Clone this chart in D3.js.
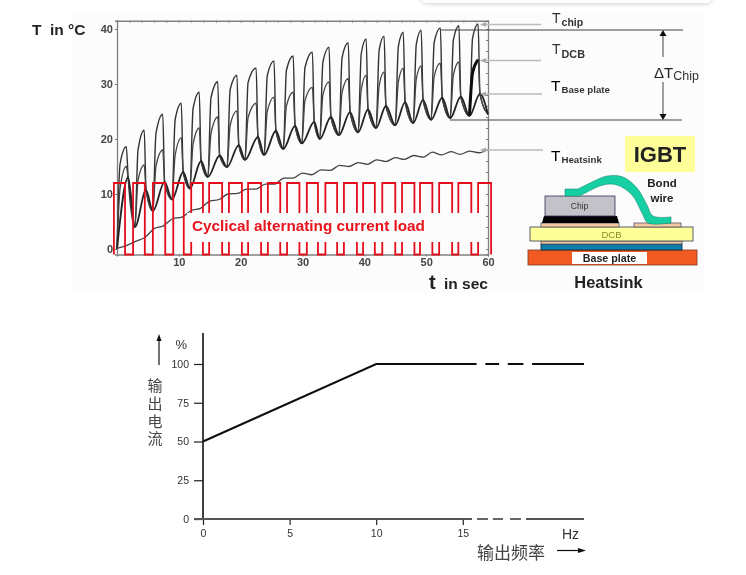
<!DOCTYPE html>
<html>
<head>
    <meta charset="UTF-8">
    <title>IGBT</title>
    <style>
        html, body { margin: 0; padding: 0; background: #fff; }
        svg { display: block; }
        text { font-family: "Liberation Sans", Arial, sans-serif; }
        .cjk { font-family: "Noto Sans CJK SC", sans-serif; fill: #444; }
    </style>
</head>
<body>
<svg id="chart" width="746" height="575"></svg>
<script src="https://d3js.org/d3.v7.min.js"></script>
<script>
    // 上图: 温度循环
    const xTicksTop = [10, 20, 30, 40, 50, 60];
    const yTicksTop = [0, 10, 20, 30, 40];
    const peakTimes = [1.5, 4.4, 7.4, 10.4, 13.3, 16.3, 19.4, 22.5, 25.4, 28.5, 31.6, 34.3, 37.4, 40.3, 43.2, 46.3, 49.2, 52.3, 55.3, 58.4];
    const valleyTimes = [0, 2.9, 5.8, 8.9, 11.8, 14.7, 17.8, 20.7, 23.8, 26.9, 29.9, 32.8, 35.9, 39, 41.9, 45, 47.9, 50.8, 53.9, 57, 60];
    const valleyTemps = [0, 4, 6.9, 9, 11, 13.1, 14.9, 16.2, 17.1, 18.2, 19.2, 20, 20.7, 21.2, 22, 22.5, 22.9, 23.5, 23.8, 24.2, 24.5];
    const chipPeaks = [18.6, 21.6, 24.5, 26.5, 28.5, 30.4, 31.6, 32.9, 34.2, 35.1, 35.8, 36.7, 37.5, 38.2, 38.7, 39.4, 39.8, 40.2, 40.6, 40.9];
    const chipShoulders = [15.5, 18, 21, 23.5, 25.5, 27.5, 29, 30.3, 31.5, 32.5, 33, 34, 34.8, 35.5, 36.2, 36.8, 37.2, 37.6, 38, 38.3];
    const dcbPeaks = [15, 15.3, 18, 20.2, 22, 24, 25.1, 26.5, 27.6, 28.5, 29.4, 30.4, 31, 31.6, 32.2, 32.9, 33.3, 33.8, 34, 34.4];
    const dcbShoulders = [11, 12.5, 15, 17, 19, 21, 22.5, 23.9, 25, 26, 27, 28, 28.5, 29, 29.7, 30.4, 30.9, 31.4, 31.6, 32];
    const basePeaks = [13, 10.7, 12.2, 14, 16, 17, 18.9, 20.4, 21.5, 22.4, 23.1, 24, 24.9, 25.4, 26, 26.7, 27.1, 27.5, 27.7, 28.2];
    const heatsinkTimes = [0, 1.5, 3, 4.5, 6, 7.5, 9, 10.5, 12, 13.5, 15, 16.5, 18, 19.5, 21, 22.5, 24, 25.5, 27, 28.5, 30, 31.5, 33, 34.5, 36, 37.5, 39, 40.5, 42, 43.5, 45, 46.5, 48, 49.5, 51, 52.5, 54, 55.5, 57, 58.5, 60];
    const heatsinkTemps = [0.1, 0.6, 1.4, 2.1, 3.7, 4.2, 5.5, 5.8, 7, 7.4, 8.7, 9, 10, 10.1, 10.9, 10.9, 11.8, 11.8, 12.9, 12.9, 13.8, 13.5, 14.4, 14.3, 15.2, 15, 15.7, 15.4, 16.2, 15.9, 16.6, 16.3, 17, 16.7, 17.6, 17.1, 17.7, 17.2, 17.8, 17.5, 18.1];
    const loadEdges = [-0.5, 1.3, 2.6, 4.5, 5.8, 7.8, 9.1, 10.8, 12, 13.9, 14.9, 17, 18.1, 20.2, 21.2, 23.3, 24.4, 26.4, 27.5, 29.5, 30.7, 32.5, 33.7, 35.6, 36.7, 38.8, 39.8, 41.7, 42.9, 45, 46.1, 48.1, 49, 51, 52.1, 54.2, 55.2, 57.3, 58.4, 60.5];
    const loadHigh = 12, loadLow = -1;

    // 下图: 输出电流
    const freqTicks = [0, 5, 10, 15];
    const currentTicks = [0, 25, 50, 75, 100];
    const curveFreq = [0, 10, 15.8];
    const curveCurrent = [50, 100, 100];
    const curveDashes = [[16.3, 17.1], [17.6, 18.5], [19, 22]];
    const axisDashes = [[15.82, 16.46], [16.74, 17.32], [17.73, 18.36], [18.65, 22]];

    const svg = d3.select("#chart");
    const defs = svg.append("defs");
    defs.append("filter").attr("id", "soft").append("feGaussianBlur").attr("stdDeviation", 0.5);
    defs.append("filter").attr("id", "softer").append("feGaussianBlur").attr("stdDeviation", 0.35);
    const shadow = defs.append("filter").attr("id", "cardShadow").attr("x", "-5%").attr("y", "-50%").attr("width", "110%").attr("height", "300%");
    shadow.append("feDropShadow").attr("dx", 0).attr("dy", 1).attr("stdDeviation", 2).attr("flood-color", "#000").attr("flood-opacity", 0.18);

    // 背景
    svg.append("rect").attr("x", 73).attr("y", 12).attr("width", 632).attr("height", 281).attr("fill", "#fcfcfc");
    svg.append("rect").attr("x", 421).attr("y", -20).attr("width", 291).attr("height", 23).attr("rx", 6)
        .attr("fill", "#fff").attr("filter", "url(#cardShadow)");

    const upper = svg.append("g").attr("filter", "url(#soft)");
    const x = d3.scaleLinear().domain([0, 60]).range([117, 488]);
    const y = d3.scaleLinear().domain([-1, 41.5]).range([254.5, 20.75]);

    // 框和刻度
    function styleAxis(g) {
        g.selectAll("path").attr("stroke", "#808080").attr("stroke-width", 1.3);
        g.selectAll("line").attr("stroke", "#808080");
        g.selectAll("text").attr("fill", "#444").attr("font-size", 11).attr("font-weight", "bold")
            .style("font-family", "'Liberation Sans', Arial, sans-serif");
    }
    upper.append("g").attr("transform", `translate(0,${y(-1)})`)
        .call(d3.axisBottom(x).tickValues(xTicksTop).tickSize(2).tickPadding(2)).call(styleAxis);
    upper.append("g").attr("transform", `translate(${x(0)},0)`)
        .call(d3.axisLeft(y).tickValues(yTicksTop).tickSize(2).tickPadding(2)).call(styleAxis);
    upper.append("g").attr("transform", `translate(0,${y(41.5)})`)
        .call(d3.axisTop(x).tickValues(d3.range(0, 61, 2)).tickSize(-2).tickFormat("")).call(styleAxis);
    upper.append("g").attr("transform", `translate(${x(60)},0)`)
        .call(d3.axisRight(y).tickValues(d3.range(0, 41, 2)).tickSize(-2).tickFormat("")).call(styleAxis);

    // 曲线
    const line = d3.line().x(d => x(d[0])).y(d => y(d[1])).curve(d3.curveMonotoneX);
    const dropTime = 0.3, riseTime = 0.5;

    const chipPts = [], dcbPts = [], basePts = [];
    peakTimes.forEach((tp, i) => {
        const tv = valleyTimes[i];
        chipPts.push([tv, valleyTemps[i]], [tv + riseTime, chipShoulders[i]], [tp, chipPeaks[i]], [tp + dropTime, basePeaks[i]]);
        dcbPts.push([tv, valleyTemps[i]], [tv + riseTime, dcbShoulders[i]], [tp, dcbPeaks[i]], [tp + dropTime, basePeaks[i]]);
        basePts.push([tv, valleyTemps[i]], [tp + dropTime, basePeaks[i]]);
    });
    const endPt = [valleyTimes[20], valleyTemps[20]];
    chipPts.push(endPt); dcbPts.push(endPt); basePts.push(endPt);

    upper.append("path").attr("d", line(chipPts)).attr("fill", "none").attr("stroke", "#333").attr("stroke-width", 1.4);
    upper.append("path").attr("d", line(dcbPts)).attr("fill", "none").attr("stroke", "#444").attr("stroke-width", 1.3);
    upper.append("path").attr("d", line(basePts)).attr("fill", "none").attr("stroke", "#222").attr("stroke-width", 1.8);
    // 最后一个周期 DCB 加粗
    upper.append("path").attr("d", line(dcbPts.slice(76, 79))).attr("fill", "none").attr("stroke", "#111").attr("stroke-width", 3);
    upper.append("path").attr("d", line(heatsinkTimes.map((t, i) => [t, heatsinkTemps[i]])))
        .attr("fill", "none").attr("stroke", "#444").attr("stroke-width", 1.3);

    // 方波负载
    const loadPts = [];
    loadEdges.forEach((t, i) => {
        const rising = i % 2 === 0;
        loadPts.push([t, rising ? loadLow : loadHigh], [t, rising ? loadHigh : loadLow]);
    });
    upper.append("path").attr("d", d3.line().x(d => x(d[0])).y(d => y(d[1]))(loadPts))
        .attr("fill", "none").attr("stroke", "#e4101c").attr("stroke-width", 1.8);
    upper.append("rect").attr("x", 187).attr("y", 213).attr("width", 299).attr("height", 29).attr("fill", "#fcfcfc");
    upper.append("text").attr("x", 192).attr("y", 231).attr("fill", "#e8121c").attr("font-size", 15.3).attr("font-weight", "bold")
        .text("Cyclical alternating current load");

    // 引线
    [[24.5, 483, 541], [60.5, 483, 541], [94, 483, 542], [150, 483, 543]].forEach(d => {
        upper.append("line").attr("x1", d[1]).attr("x2", d[2]).attr("y1", d[0]).attr("y2", d[0]).attr("stroke", "#bbb").attr("stroke-width", 1.6);
        upper.append("path").attr("d", `M${d[1] - 3},${d[0]}l6,-2.5v5z`).attr("fill", "#aaa");
    });
    upper.append("line").attr("x1", 440).attr("x2", 683).attr("y1", 30).attr("y2", 30).attr("stroke", "#444").attr("stroke-width", 1.2);
    upper.append("line").attr("x1", 450).attr("x2", 682).attr("y1", 120).attr("y2", 120).attr("stroke", "#444").attr("stroke-width", 1.2);
    upper.append("line").attr("x1", 663).attr("x2", 663).attr("y1", 34).attr("y2", 57).attr("stroke", "#444");
    upper.append("line").attr("x1", 663).attr("x2", 663).attr("y1", 82).attr("y2", 116).attr("stroke", "#444");
    upper.append("path").attr("d", "M663,30l-3.5,6h7z").attr("fill", "#111");
    upper.append("path").attr("d", "M663,120l-3.5,-6h7z").attr("fill", "#111");

    // 文字
    function label(px, py, main, mainSize, sub, subSize, dy, fill) {
        const t = upper.append("text").attr("x", px).attr("y", py).attr("fill", fill).attr("font-size", mainSize).text(main);
        t.append("tspan").attr("font-size", subSize).attr("font-weight", "bold").attr("dx", 1).attr("dy", dy).attr("fill", "#333").text(sub);
    }
    label(552, 22.5, "T", 14, "chip", 10.5, 3.5, "#333");
    label(552, 54, "T", 14, "DCB", 10.8, 3.5, "#333");
    label(551, 91, "T", 15.5, "Base plate", 9.7, 1.7, "#000");
    label(551, 161, "T", 15.5, "Heatsink", 9.7, 2, "#000");
    const dt = upper.append("text").attr("x", 654).attr("y", 78).attr("fill", "#222").attr("font-size", 15).text("ΔT");
    dt.append("tspan").attr("dy", 2).attr("font-size", 12.5).attr("fill", "#333").text("Chip");
    const tl = upper.append("text").attr("x", 32).attr("y", 35).attr("font-size", 15.5).attr("font-weight", "bold").attr("fill", "#222");
    tl.append("tspan").text("T");
    tl.append("tspan").attr("x", 50).text("in °C");
    const ts = upper.append("text").attr("x", 429).attr("y", 289).attr("font-size", 15.5).attr("font-weight", "bold").attr("fill", "#222");
    ts.append("tspan").attr("font-size", 20).text("t");
    ts.append("tspan").attr("x", 444).text("in sec");

    // IGBT 结构图
    function box(px, py, w, h, fill, stroke) {
        upper.append("rect").attr("x", px).attr("y", py).attr("width", w).attr("height", h).attr("fill", fill)
            .attr("stroke", stroke || "none").attr("stroke-width", stroke ? 0.8 : 0);
    }
    box(625, 136, 70, 36, "#ffff99");
    upper.append("text").attr("x", 660).attr("y", 162).attr("text-anchor", "middle").attr("font-size", 22).attr("font-weight", "bold").attr("fill", "#222").text("IGBT");
    box(528, 250, 169, 15, "#f15a24", "#7a3a20");
    box(572, 252, 75, 12, "#fff");
    box(541, 244, 141, 6, "#0f7fa8", "#123");
    box(541, 241, 141, 3, "#f5c9a0", "#556");
    box(530, 227, 163, 14, "#ffff99", "#335");
    box(541, 223, 78, 4, "#f5c9a0", "#556");
    box(634, 223, 47, 4, "#f5c9a0", "#556");
    upper.append("path").attr("d", "M542,223L544,216H617L619,223Z").attr("fill", "#000");
    box(545, 196, 70, 20, "#c2c2c8", "#335");
    // 键合线
    const wireTop = d3.line().curve(d3.curveCatmullRom)([[578, 189], [590, 183], [607, 176], [623, 177], [637, 188], [647, 205], [653, 216], [671, 217]]);
    const wireBottom = d3.line().curve(d3.curveCatmullRom)([[671, 223], [648, 223], [642, 213], [632, 195], [617, 185], [603, 185], [580, 196]]);
    upper.append("path")
        .attr("d", `M565,189L578,189${wireTop.slice(wireTop.indexOf("C"))}L671,223${wireBottom.slice(wireBottom.indexOf("C"))}L565,196Z`)
        .attr("fill", "#16cfa3").attr("stroke", "#0c7a6a").attr("stroke-width", 0.5);
    upper.append("text").attr("x", 579.5).attr("y", 209).attr("text-anchor", "middle").attr("font-size", 8.5).attr("fill", "#333").text("Chip");
    upper.append("text").attr("x", 611.5).attr("y", 237.5).attr("text-anchor", "middle").attr("font-size", 9.5).attr("fill", "#8a8a20").text("DCB");
    upper.append("text").attr("x", 609.5).attr("y", 261.5).attr("text-anchor", "middle").attr("font-size", 10.7).attr("font-weight", "bold").attr("fill", "#222").text("Base plate");
    upper.append("text").attr("x", 662).attr("y", 187).attr("text-anchor", "middle").attr("font-size", 11.5).attr("font-weight", "bold").attr("fill", "#222").text("Bond");
    upper.append("text").attr("x", 662).attr("y", 202).attr("text-anchor", "middle").attr("font-size", 11.5).attr("font-weight", "bold").attr("fill", "#222").text("wire");
    upper.append("text").attr("x", 608.5).attr("y", 288).attr("text-anchor", "middle").attr("font-size", 16.4).attr("font-weight", "bold").attr("fill", "#222").text("Heatsink");

    // 下图
    const lower = svg.append("g").attr("filter", "url(#softer)");
    const fx = d3.scaleLinear().domain([0, 22]).range([203, 584]);
    const cy = d3.scaleLinear().domain([0, 120]).range([519, 333]);

    const bx = lower.append("g").attr("transform", `translate(0,${cy(0)})`)
        .call(d3.axisBottom(fx).tickValues(freqTicks).tickSize(6).tickPadding(5).tickFormat(d => d));
    bx.select(".domain").remove();
    const by = lower.append("g").attr("transform", `translate(${fx(0)},0)`)
        .call(d3.axisLeft(cy).tickValues(currentTicks).tickSize(9).tickPadding(5));
    by.select(".domain").attr("d", `M0,${cy(120)}V${cy(0)}`).attr("stroke", "#111").attr("stroke-width", 1.6);
    [bx, by].forEach(g => {
        g.selectAll("line").attr("stroke", "#222").attr("stroke-width", 1.2);
        g.selectAll("text").attr("fill", "#333").attr("font-size", 10.5).style("font-family", "'Liberation Sans', Arial, sans-serif");
    });

    // x 轴线 (后段虚线)
    lower.append("line").attr("x1", fx(0) - 9).attr("x2", fx(15.53)).attr("y1", cy(0)).attr("y2", cy(0)).attr("stroke", "#555").attr("stroke-width", 2);
    axisDashes.forEach(d => {
        lower.append("line").attr("x1", fx(d[0])).attr("x2", fx(d[1])).attr("y1", cy(0)).attr("y2", cy(0)).attr("stroke", "#555").attr("stroke-width", 1.8);
    });

    // 电流曲线
    const curve = d3.line().x(d => fx(d[0])).y(d => cy(d[1]));
    lower.append("path").attr("d", curve(curveFreq.map((f, i) => [f, curveCurrent[i]]))).attr("fill", "none").attr("stroke", "#111").attr("stroke-width", 2);
    curveDashes.forEach(d => {
        lower.append("path").attr("d", curve([[d[0], 100], [d[1], 100]])).attr("fill", "none").attr("stroke", "#111").attr("stroke-width", 2);
    });

    // 单位和标题
    lower.append("text").attr("x", 175.5).attr("y", 349).attr("font-size", 13).attr("fill", "#333").text("%");
    lower.append("text").attr("x", 562).attr("y", 539).attr("font-size", 14).attr("fill", "#333").text("Hz");
    lower.append("text").attr("class", "cjk").attr("x", 155).attr("y", 378).attr("writing-mode", "vertical-rl")
        .attr("letter-spacing", 2.7).attr("font-size", 15).text("输出电流");
    lower.append("text").attr("class", "cjk").attr("x", 477).attr("y", 559).attr("font-size", 17).text("输出频率");
    lower.append("line").attr("x1", 159).attr("x2", 159).attr("y1", 365).attr("y2", 338).attr("stroke", "#111").attr("stroke-width", 1.2);
    lower.append("path").attr("d", "M159,334l-2.5,7h5z").attr("fill", "#111");
    lower.append("line").attr("x1", 557).attr("x2", 582).attr("y1", 550.5).attr("y2", 550.5).attr("stroke", "#111").attr("stroke-width", 1.2);
    lower.append("path").attr("d", "M586,550.5l-8,-2.5v5z").attr("fill", "#111");
</script>
</body>
</html>
